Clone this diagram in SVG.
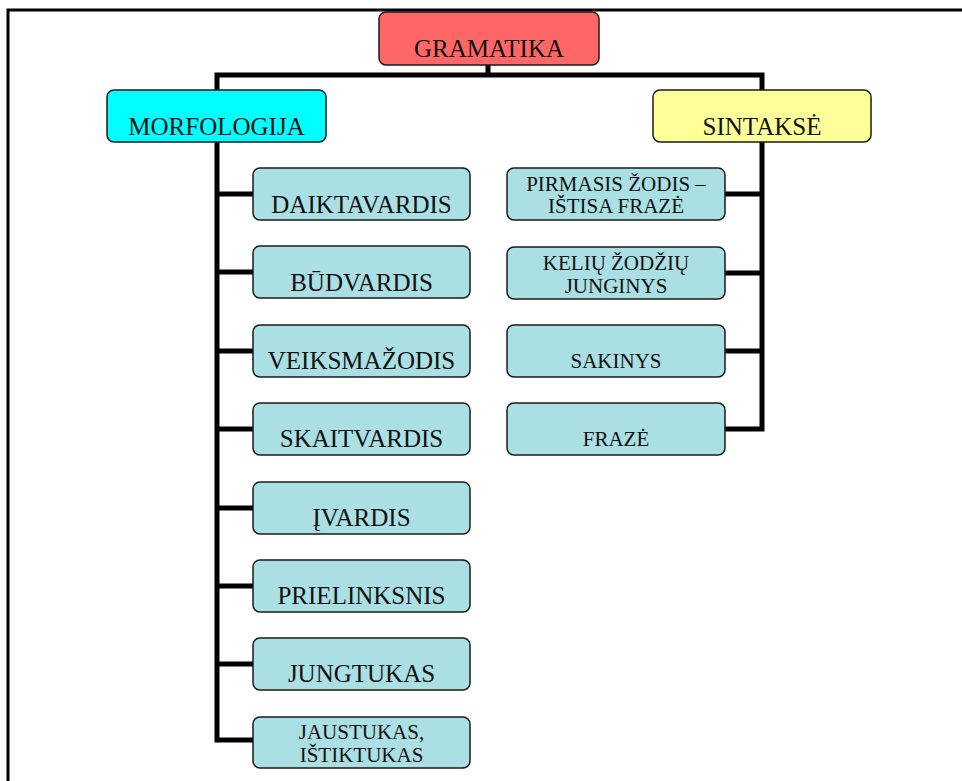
<svg xmlns="http://www.w3.org/2000/svg" width="962" height="781" viewBox="0 0 962 781">
<style>
  .box { stroke: #1a1a1a; stroke-width: 1.5; }
  .child { fill: #aadfe3; }
  .t { font-family: "Liberation Serif", "Times New Roman", serif; fill: #111; text-anchor: middle; }
  .big { font-size: 25px; }
  .small { font-size: 21px; }
  .conn { fill: none; stroke: #000; stroke-width: 5; stroke-linejoin: miter; stroke-linecap: butt; }
</style>
<rect width="962" height="781" fill="#fff"/>
<path d="M8,781 V10 H962" fill="none" stroke="#000" stroke-width="3"/>

<g id="connectors" class="conn">
  <path d="M488,65 V75"/>
  <path d="M217,90 V75 H762 V90"/>
  <path d="M217,142 V740 H253"/>
  <path d="M217,194 H253"/>
  <path d="M217,272 H253"/>
  <path d="M217,351 H253"/>
  <path d="M217,429 H253"/>
  <path d="M217,508 H253"/>
  <path d="M217,586 H253"/>
  <path d="M217,664 H253"/>
  <path d="M762,142 V429 H725"/>
  <path d="M762,194 H725"/>
  <path d="M762,273 H725"/>
  <path d="M762,351 H725"/>
</g>

<g id="gramatika">
  <rect class="box" x="379" y="12" width="220" height="53" rx="7" fill="#ff6666"/>
  <text class="t big" x="489" y="57">GRAMATIKA</text>
</g>
<g id="morfologija">
  <rect class="box" x="107" y="90" width="219" height="52" rx="7" fill="#00ffff"/>
  <text class="t big" x="216.5" y="135">MORFOLOGIJA</text>
</g>
<g id="sintakse">
  <rect class="box" x="653" y="90" width="218" height="52" rx="7" fill="#ffff99"/>
  <text class="t big" x="762" y="135">SINTAKSĖ</text>
</g>

<g id="daiktavardis">
  <rect class="box child" x="253" y="168" width="217" height="52" rx="7"/>
  <text class="t big" x="361.5" y="213">DAIKTAVARDIS</text>
</g>
<g id="budvardis">
  <rect class="box child" x="253" y="246" width="217" height="52" rx="7"/>
  <text class="t big" x="361.5" y="291">BŪDVARDIS</text>
</g>
<g id="veiksmazodis">
  <rect class="box child" x="253" y="325" width="217" height="52" rx="7"/>
  <text class="t big" x="361.5" y="369">VEIKSMAŽODIS</text>
</g>
<g id="skaitvardis">
  <rect class="box child" x="253" y="403" width="217" height="52" rx="7"/>
  <text class="t big" x="361.5" y="447">SKAITVARDIS</text>
</g>
<g id="ivardis">
  <rect class="box child" x="253" y="482" width="217" height="52" rx="7"/>
  <text class="t big" x="361.5" y="526">ĮVARDIS</text>
</g>
<g id="prielinksnis">
  <rect class="box child" x="253" y="560" width="217" height="52" rx="7"/>
  <text class="t big" x="361.5" y="604">PRIELINKSNIS</text>
</g>
<g id="jungtukas">
  <rect class="box child" x="253" y="638" width="217" height="52" rx="7"/>
  <text class="t big" x="361.5" y="682">JUNGTUKAS</text>
</g>
<g id="jaustukas">
  <rect class="box child" x="253" y="717" width="217" height="51" rx="7"/>
  <text class="t small" x="361.5" y="739">JAUSTUKAS,</text>
  <text class="t small" x="361.5" y="762">IŠTIKTUKAS</text>
</g>

<g id="pirmasis">
  <rect class="box child" x="507" y="168" width="218" height="52" rx="7"/>
  <text class="t small" x="616" y="191">PIRMASIS ŽODIS –</text>
  <text class="t small" x="616" y="213">IŠTISA FRAZĖ</text>
</g>
<g id="keliu">
  <rect class="box child" x="507" y="247" width="218" height="52" rx="7"/>
  <text class="t small" x="616" y="270">KELIŲ ŽODŽIŲ</text>
  <text class="t small" x="616" y="293">JUNGINYS</text>
</g>
<g id="sakinys">
  <rect class="box child" x="507" y="325" width="218" height="52" rx="7"/>
  <text class="t small" x="616" y="368">SAKINYS</text>
</g>
<g id="fraze">
  <rect class="box child" x="507" y="403" width="218" height="52" rx="7"/>
  <text class="t small" x="616" y="446">FRAZĖ</text>
</g>
</svg>
